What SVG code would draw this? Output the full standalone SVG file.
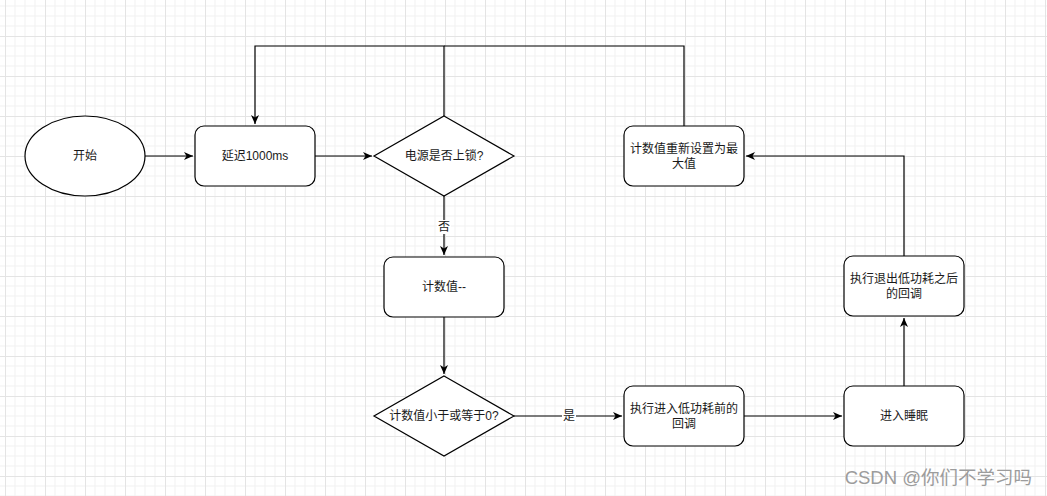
<svg xmlns="http://www.w3.org/2000/svg" width="1047" height="496" viewBox="0 0 1047 496">
<style>
.n{fill:#fff;stroke:#000;stroke-width:1.2}
.t{font-family:"Liberation Sans","Noto Sans CJK SC",sans-serif;font-size:12px;fill:#1a1a1a;text-anchor:middle;dominant-baseline:central}
.e{fill:none;stroke:#000;stroke-width:1.2}
.lb{fill:#fff}
</style>
<defs>
<pattern id="grid" patternUnits="userSpaceOnUse" x="5" y="-4" width="40" height="40">
<path d="M10,0V40M20,0V40M30,0V40M0,10H40M0,20H40M0,30H40" stroke="#f1f1f1" stroke-width="1" fill="none"/>
<path d="M0.5,0V40M0,0.5H40" stroke="#e4e4e4" stroke-width="1" fill="none"/>
</pattern>
<marker id="arr" markerWidth="10" markerHeight="10" refX="9" refY="5" orient="auto" markerUnits="userSpaceOnUse">
<path d="M0,1 L9,5 L0,9 L2.5,5 z" fill="#000"/>
</marker>
</defs>
<rect width="1047" height="496" fill="#fff"/>
<rect width="1047" height="496" fill="url(#grid)"/>

<g id="connectors">
<path class="e" d="M145,156H193" marker-end="url(#arr)"/>
<path class="e" d="M315,156H372" marker-end="url(#arr)"/>
<path class="e" d="M444,116V46H255V124" marker-end="url(#arr)"/>
<path class="e" d="M684,126V46H444"/>
<path class="e" d="M444,196V255" marker-end="url(#arr)"/>
<rect class="lb" x="437" y="220" width="14" height="14"/>
<text class="t" x="444" y="227">否</text>
<path class="e" d="M444,317V374" marker-end="url(#arr)"/>
<path class="e" d="M514,416H622" marker-end="url(#arr)"/>
<rect class="lb" x="562" y="409" width="14" height="14"/>
<text class="t" x="569" y="416">是</text>
<path class="e" d="M744,416H842" marker-end="url(#arr)"/>
<path class="e" d="M904,386V318" marker-end="url(#arr)"/>
<path class="e" d="M904,256V156H746" marker-end="url(#arr)"/>
</g>

<g id="start">
<ellipse class="n" cx="85" cy="156" rx="60" ry="40"/>
<text class="t" x="85" y="156">开始</text>
</g>
<g id="delay">
<rect class="n" x="195" y="126" width="120" height="60" rx="9"/>
<text class="t" x="255" y="156">延迟1000ms</text>
</g>
<g id="locked">
<path class="n" d="M444,116L514,156L444,196L374,156Z"/>
<text class="t" x="444" y="156">电源是否上锁?</text>
</g>
<g id="decrement">
<rect class="n" x="384" y="257" width="120" height="60" rx="9"/>
<text class="t" x="444" y="287">计数值--</text>
</g>
<g id="check">
<path class="n" d="M444,376L514,416L444,456L374,416Z"/>
<text class="t" x="444" y="416">计数值小于或等于0?</text>
</g>
<g id="before">
<rect class="n" x="624" y="386" width="120" height="60" rx="9"/>
<text class="t" x="684" y="409">执行进入低功耗前的</text>
<text class="t" x="684" y="424">回调</text>
</g>
<g id="sleep">
<rect class="n" x="844" y="386" width="120" height="60" rx="9"/>
<text class="t" x="904" y="416">进入睡眠</text>
</g>
<g id="after">
<rect class="n" x="844" y="256" width="120" height="60" rx="9"/>
<text class="t" x="904" y="279">执行退出低功耗之后</text>
<text class="t" x="904" y="294">的回调</text>
</g>
<g id="reset">
<rect class="n" x="624" y="126" width="120" height="60" rx="9"/>
<text class="t" x="684" y="149">计数值重新设置为最</text>
<text class="t" x="684" y="164">大值</text>
</g>
<text x="1032" y="484" style="font-family:'Liberation Sans','Noto Sans CJK SC',sans-serif;font-size:18.5px;fill:#9c9c9c;text-anchor:end">CSDN @你们不学习吗</text>
</svg>
